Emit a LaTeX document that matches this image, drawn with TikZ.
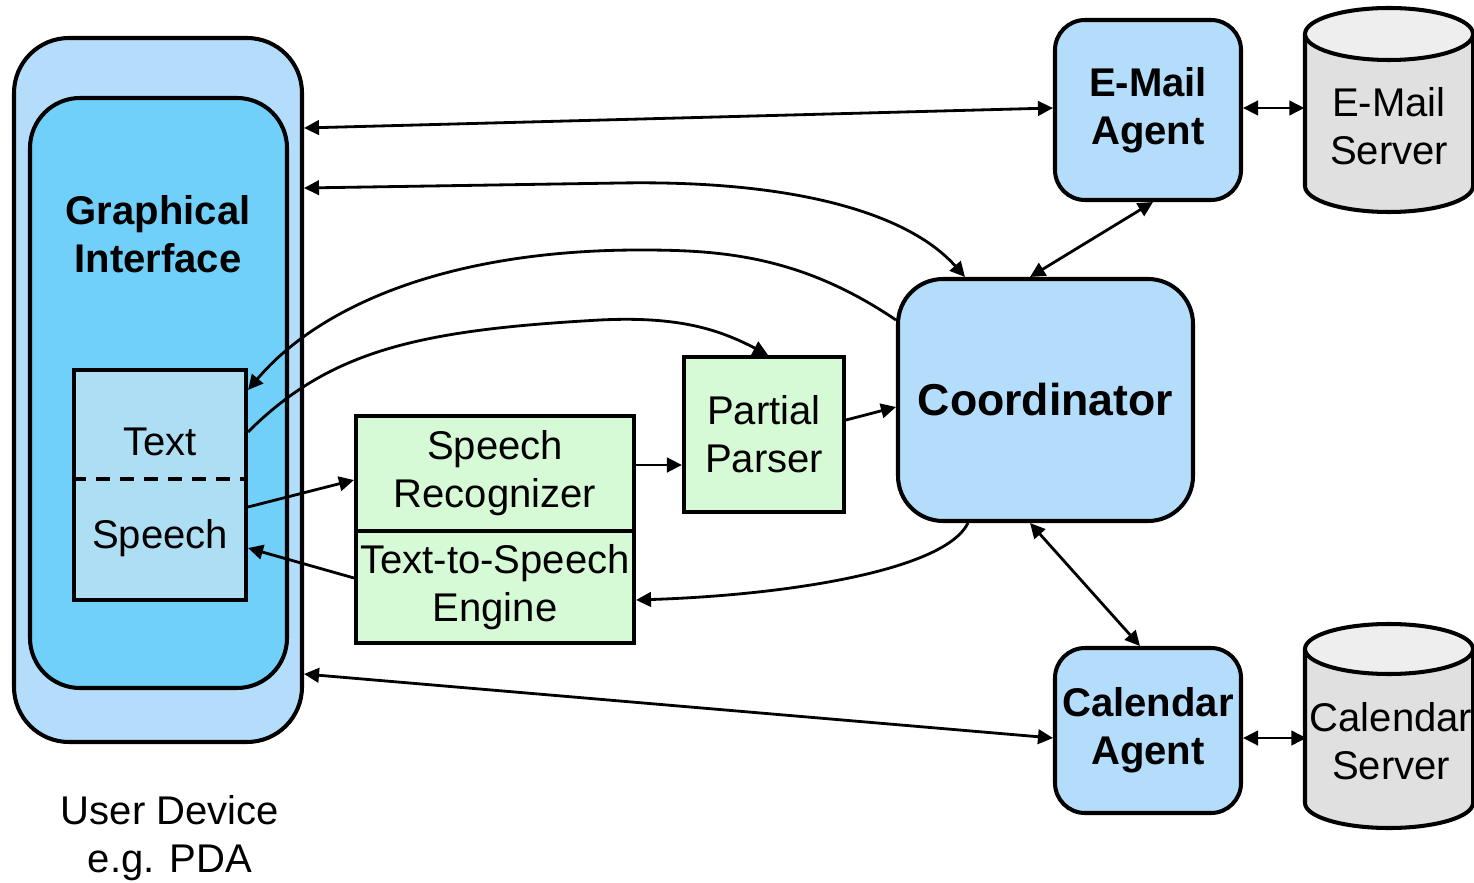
\documentclass[tikz,border=0pt]{standalone}
\usepackage{fontspec}
\setmainfont{Liberation Sans}
\usetikzlibrary{arrows.meta}
\definecolor{devblue}{RGB}{180,220,251}
\definecolor{guiblue}{RGB}{112,208,250}
\definecolor{tsblue}{RGB}{173,222,243}
\definecolor{lgreen}{RGB}{214,250,214}
\definecolor{cylgray}{RGB}{224,224,224}
\definecolor{cyltop}{RGB}{238,238,238}
\begin{document}
\begin{tikzpicture}[x=0.1mm,y=-0.1mm,
  txt/.style={inner sep=0pt, align=center, font=\fontsize{11.4}{13.66}\selectfont},
  box/.style={txt, draw, line width=1.15pt},
  conn/.style={line width=0.8pt, -{Triangle[length=1.5mm,width=1.45mm]}},
  bconn/.style={line width=0.8pt, {Triangle[length=1.5mm,width=1.45mm]}-{Triangle[length=1.5mm,width=1.45mm]}},
  cylline/.style={line width=1.15pt},
]
\useasboundingbox (0,0) rectangle (1474,883);

% user device
\node[box, fill=devblue, rounded corners=5.5mm, minimum width=28.8mm, minimum height=70.4mm] (ud) at (158,390) {};
\node[box, fill=guiblue, rounded corners=5mm, minimum width=25.7mm, minimum height=59mm] (gui) at (158.5,393) {};
\node[txt, font=\fontsize{11.4}{13.66}\selectfont\bfseries] (guilbl) at (158,234) {Graphical\\Interface};
\node[box, fill=tsblue, minimum width=17.2mm, minimum height=23mm] (ts) at (160,485) {};
\draw[line width=0.9pt, dash pattern=on 1.4mm off 1mm] (ts.west |- 0,479) -- (ts.east |- 0,479);
\node[txt] (txtlbl) at (160,442) {Text};
\node[txt] (spclbl) at (160,538) {Speech};
\node[txt] (udlbl) at (170,838) {User Device\\e.g. PDA};

% green boxes
\node[box, fill=lgreen, minimum width=27.8mm, minimum height=11.5mm] (sr) at (495,473.5) {Speech\\Recognizer};
\node[box, fill=lgreen, minimum width=27.8mm, minimum height=11.2mm] (tts) at (495,587) {Text-to-Speech\\Engine};
\node[box, fill=lgreen, minimum width=16mm, minimum height=15.5mm] (pp) at (764,434.5) {Partial\\Parser};

% blue agents
\node[box, fill=devblue, rounded corners=4.5mm, minimum width=29.5mm, minimum height=24.2mm, font=\fontsize{12.7}{15}\selectfont\bfseries] (coord) at (1045.5,400) {Coordinator};
\node[box, fill=devblue, rounded corners=3mm, minimum width=18.6mm, minimum height=18mm, font=\fontsize{11.4}{13.66}\selectfont\bfseries] (ema) at (1148,110) {E-Mail\\Agent};
\node[box, fill=devblue, rounded corners=3mm, minimum width=18.6mm, minimum height=16.5mm, font=\fontsize{11.4}{13.66}\selectfont\bfseries] (cal) at (1148,730.5) {Calendar\\Agent};

% cylinders
\fill[cylgray] (1305,34) rectangle (1473,186);
\fill[cylgray] (1389,186) ellipse [x radius=8.4mm, y radius=2.6mm];
\draw[cylline] (1305,34) -- (1305,186) arc[start angle=180, end angle=360, x radius=8.4mm, y radius=2.6mm] -- (1473,34);
\draw[cylline, fill=cyltop] (1389,34) ellipse [x radius=8.4mm, y radius=2.6mm];
\node[txt, minimum width=16.8mm] (esrv) at (1389,126) {E-Mail\\Server};

\fill[cylgray] (1305,649) rectangle (1473,803);
\fill[cylgray] (1389,803) ellipse [x radius=8.4mm, y radius=2.5mm];
\draw[cylline] (1305,649) -- (1305,803) arc[start angle=180, end angle=360, x radius=8.4mm, y radius=2.5mm] -- (1473,649);
\draw[cylline, fill=cyltop] (1389,649) ellipse [x radius=8.4mm, y radius=2.5mm];
\node[txt, minimum width=16.8mm] (csrv) at (1391,741) {Calendar\\Server};

% connectors
\draw[bconn] (ud.east |- 0,128) -- (ema.west |- 0,108);
\draw[bconn] (ud.east |- 0,188) -- (620,183) .. controls (800,180) and (910,215) .. (coord.north -| 965,0);
\draw[conn] (coord.west |- 0,320) .. controls (800,255) and (720,250) .. (640,250) .. controls (450,250) and (320,305) .. (ts.east |- 0,390);
\draw[conn] (ts.east |- 0,432) .. controls (330,350) and (420,330) .. (600,320) .. controls (680,316) and (720,330) .. (pp.north -| 768,0);
\draw[conn] (ts.east |- 0,507) -- (sr.west |- 0,480);
\draw[conn] (tts.west |- 0,578) -- (ts.east |- 0,548);
\draw[conn] (sr.east |- 0,465) -- (pp.west |- 0,465);
\draw[conn] (pp.east |- 0,420) -- (coord.west |- 0,407);
\draw[conn] (coord.south -| 968,0) .. controls (945,570) and (790,595) .. (tts.east |- 0,600);
\draw[bconn] (coord.south -| 1030,0) -- (cal.north -| 1140,0);
\draw[bconn] (coord.north -| 1030,0) -- (ema.south -| 1153,0);
\draw[bconn] (ud.east |- 0,674) -- (cal.west |- 0,738);
\draw[bconn] (ema.east |- 0,108) -- (esrv.west |- 0,108);
\draw[bconn] (cal.east |- 0,738) -- (csrv.west |- 0,738);
\end{tikzpicture}
\end{document}
